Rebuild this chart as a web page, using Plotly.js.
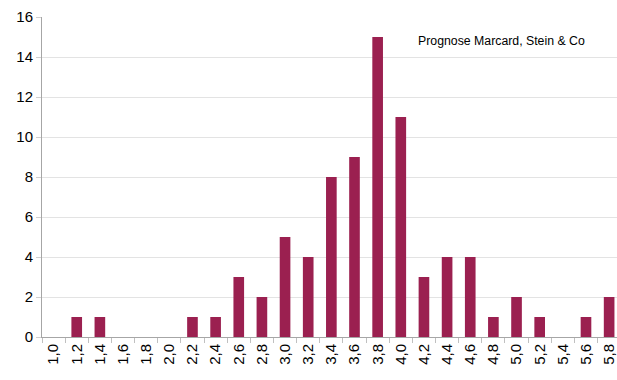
<!DOCTYPE html>
<html>
<head>
<meta charset="utf-8">
<script src="https://cdn.plot.ly/plotly-3.0.1.min.js"></script>
<style>
html,body{margin:0;padding:0;overflow:hidden;background:#fff;}
#chart{width:617px;height:380px;}
</style>
</head>
<body>
<div id="chart"></div>
<script>
var categories = ["1,0","1,2","1,4","1,6","1,8","2,0","2,2","2,4","2,6","2,8","3,0","3,2","3,4","3,6","3,8","4,0","4,2","4,4","4,6","4,8","5,0","5,2","5,4","5,6","5,8"];
var counts = [0,1,1,0,0,0,1,1,3,2,5,4,8,9,15,11,3,4,4,1,2,1,0,1,2];
var yTicks = [0,2,4,6,8,10,12,14,16];
var noteText = "Prognose Marcard, Stein & Co";

var trace = {
  type: "bar",
  x: categories,
  y: counts,
  width: 0.46,
  marker: {color: "#9B2050", line: {width: 0}},
  hoverinfo: "x+y"
};

var layout = {
  width: 617,
  height: 380,
  margin: {l: 42, r: 0, t: 17, b: 43, pad: 0},
  paper_bgcolor: "#ffffff",
  plot_bgcolor: "#ffffff",
  showlegend: false,
  font: {family: "Liberation Sans, Arial, sans-serif", color: "#000000"},
  xaxis: {
    type: "category",
    range: [-0.5, 24.34],
    tickangle: -90,
    tickfont: {size: 15, family: "Liberation Sans, Arial, sans-serif", color: "#000"},
    tickson: "boundaries",
    ticks: "outside",
    ticklen: 5,
    tickcolor: "#c0c0c0",
    showline: true,
    linecolor: "#a6a6a6",
    linewidth: 1,
    showgrid: false,
    zeroline: false
  },
  yaxis: {
    range: [0, 16],
    tickvals: yTicks,
    ticktext: yTicks.map(String),
    tickfont: {size: 15, family: "Liberation Sans, Arial, sans-serif", color: "#000"},
    ticks: "outside",
    ticklen: 5,
    tickcolor: "#d0d0d0",
    showline: true,
    linecolor: "#a6a6a6",
    linewidth: 1,
    showgrid: true,
    gridcolor: "#e3e3e3",
    gridwidth: 1,
    zeroline: false
  },
  annotations: [{
    text: noteText,
    xref: "paper", yref: "paper",
    x: 0.948, y: 0.925,
    xanchor: "right", yanchor: "middle",
    showarrow: false,
    font: {size: 12.3, family: "Liberation Sans, Arial, sans-serif", color: "#000"}
  }]
};

Plotly.newPlot("chart", [trace], layout, {displayModeBar: false, staticPlot: true});
</script>
</body>
</html>
